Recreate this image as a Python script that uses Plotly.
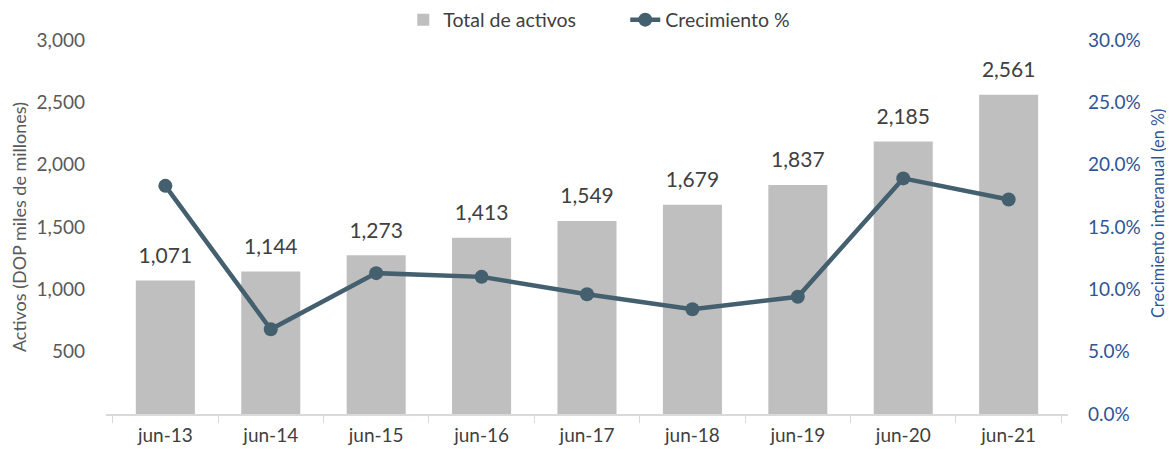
import plotly.graph_objects as go

categories = ["jun-13", "jun-14", "jun-15", "jun-16", "jun-17", "jun-18", "jun-19", "jun-20", "jun-21"]
activos = [1071, 1144, 1273, 1413, 1549, 1679, 1837, 2185, 2561]
crecimiento = [18.3, 6.8, 11.3, 11.0, 9.6, 8.4, 9.4, 18.9, 17.2]
left_ticks = [500, 1000, 1500, 2000, 2500, 3000]
right_ticks = [0, 5, 10, 15, 20, 25, 30]

FONT = "Lato"
fig = go.Figure()
fig.add_trace(go.Bar(
    x=categories, y=activos, name="Total de activos",
    marker=dict(color="#BFBFBF", line=dict(width=0)),
    yaxis="y", hoverinfo="x+y"
))
# data labels above the bars
fig.add_trace(go.Scatter(
    x=categories, y=activos, mode="markers+text", showlegend=False,
    marker=dict(size=18, color="rgba(0,0,0,0)"),
    text=[f"{v:,}" for v in activos], textposition="top center",
    textfont=dict(family=FONT, size=21, color="#404040"),
    cliponaxis=False, yaxis="y", hoverinfo="skip"
))
fig.add_trace(go.Scatter(
    x=categories, y=crecimiento, name="Crecimiento %", mode="lines+markers",
    line=dict(color="#44606E", width=4.5),
    marker=dict(color="#44606E", size=14),
    yaxis="y2", cliponaxis=False
))
fig.update_layout(
    width=1158, height=440,
    margin=dict(l=98, r=98, t=32, b=34, autoexpand=False),
    paper_bgcolor="white", plot_bgcolor="white",
    font=dict(family=FONT, size=18, color="#595959"),
    bargap=0.44,
    showlegend=True,
    legend=dict(orientation="h", x=0.309, xanchor="left", y=1.0535, yanchor="middle",
                font=dict(family=FONT, size=19.5, color="#404040"),
                entrywidth=177, traceorder="normal"),
    xaxis=dict(showline=True, linecolor="#D9D9D9", linewidth=1.5, automargin=False,
               ticks="outside", tickson="boundaries", tickcolor="#D9D9D9", ticklen=7,
               ticklabelstandoff=3,
               tickfont=dict(family=FONT, size=19, color="#404040"), showgrid=False),
    yaxis=dict(range=[0, 3000], tickvals=left_ticks, tickformat=",", showgrid=False,
               automargin=False, ticklabelstandoff=20,
               zeroline=False, tickfont=dict(family=FONT, size=19, color="#595959"),
               title=dict(text="Activos (DOP miles de millones)", standoff=10,
                          font=dict(family=FONT, size=18, color="#595959"))),
    yaxis2=dict(range=[0, 30], tickvals=right_ticks, ticktext=[f"{v:.1f}%" for v in right_ticks],
                overlaying="y", side="right", showgrid=False, zeroline=False,
                automargin=False, ticklabelstandoff=19,
                tickfont=dict(family=FONT, size=19, color="#2F5597")),
    annotations=[dict(text="Crecimiento interanual (en %)", xref="paper", yref="paper",
                      x=1.0936, y=0.535, xanchor="center", yanchor="middle", textangle=-90,
                      showarrow=False, font=dict(family=FONT, size=16.3, color="#2F5597"))],
)
fig.write_html("out.html")
